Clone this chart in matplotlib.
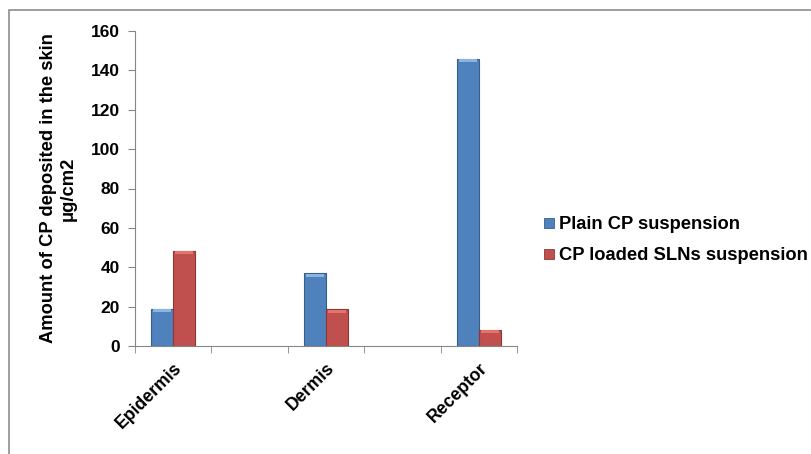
import numpy as np
import matplotlib
matplotlib.use("Agg")
import matplotlib.pyplot as plt
from matplotlib.patches import Rectangle

plt.rcParams['font.family'] = ['Liberation Sans', 'DejaVu Sans']
plt.rcParams['font.weight'] = 'bold'

# categories (blank slots keep the gaps between groups)
categories = ["Epidermis", "", "Dermis", "", "Receptor"]
series_names = ["Plain CP suspension", "CP loaded SLNs suspension"]
plain_cp = [19, None, 37, None, 146]
cp_sln = [48.5, None, 18.7, None, 8.2]
y_ticks = [0, 20, 40, 60, 80, 100, 120, 140, 160]

face_colors = ["#4F81BD", "#C0504D"]
edge_colors = ["#385D8A", "#8C3836"]
cap_colors = ["#8DB3E2", "#E6726E"]

fig = plt.figure(figsize=(8.12, 4.54), dpi=100)
# gray chart frame
fig.patches.append(Rectangle((9 / 812, -0.05), 1.0, 1 - 10 / 454 + 0.05,
                             transform=fig.transFigure, fill=False,
                             edgecolor="#8C8C8C", linewidth=1.2))

ax = fig.add_axes([135 / 812, 108 / 454, 382 / 812, 315 / 454])

x = np.arange(len(categories))
width = 0.29
handles = []
for i, vals in enumerate([plain_cp, cp_sln]):
    xs = [xi for xi, v in zip(x, vals) if v is not None]
    hs = [v for v in vals if v is not None]
    offs = (i - 0.5) * width
    ax.bar(np.array(xs) + offs, hs, width, color=face_colors[i],
           edgecolor=edge_colors[i], linewidth=0.8, zorder=2)
    # light bevel on top of each bar
    ax.bar(np.array(xs) + offs, [1.6] * len(hs), width * 0.8,
           bottom=np.array(hs) - 1.8, color=cap_colors[i], linewidth=0, zorder=3)
    handles.append(Rectangle((0, 0), 1, 1, facecolor=face_colors[i],
                             edgecolor=edge_colors[i], linewidth=0.6))

ax.set_xlim(-0.5, len(categories) - 0.5)
ax.set_ylim(0, 160)
ax.set_yticks(y_ticks)
ax.tick_params(axis='y', labelsize=12.5, length=5, color="#868686", pad=6)

shown = [i for i, c in enumerate(categories) if c]
ax.set_xticks(shown)
ax.set_xticklabels([categories[i] for i in shown], rotation=45, ha='right',
                   rotation_mode='anchor', fontsize=12.7)
ax.tick_params(axis='x', length=0, pad=10)
ax.set_xticks(np.arange(-0.5, len(categories)), minor=True)
ax.tick_params(axis='x', which='minor', length=5, color="#868686")

for s in ["top", "right"]:
    ax.spines[s].set_visible(False)
for s in ["left", "bottom"]:
    ax.spines[s].set_color("#868686")

ax.set_ylabel("Amount of CP deposited in the skin\nμg/cm2", fontsize=13.2,
              fontweight='bold', linespacing=1.25)
ax.yaxis.set_label_coords(-0.152, 0.5)

fig.legend(handles, series_names, loc='upper left',
           bbox_to_anchor=(528 / 812, 1 - 200 / 454), frameon=False,
           fontsize=13.2, handlelength=0.5, handleheight=0.5,
           handletextpad=0.3, labelspacing=0.75)

fig.savefig("out.png", dpi=100)
